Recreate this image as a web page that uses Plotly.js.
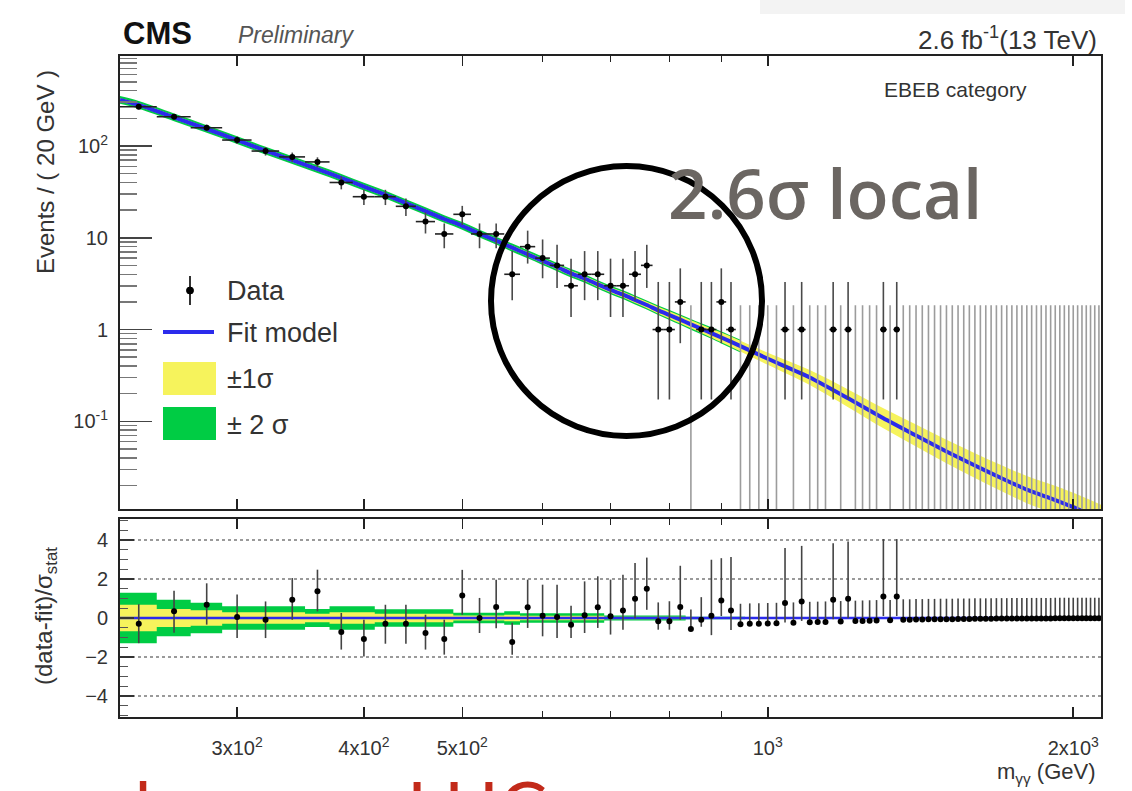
<!DOCTYPE html>
<html><head><meta charset="utf-8">
<script src="https://cdn.plot.ly/plotly-3.0.1.min.js"></script>
<style>html,body{margin:0;padding:0;background:#fff}#chart{width:1132px;height:791px}</style>
</head><body><div id="chart"></div>
<script>
// ---------------- data ----------------
const binCenters = [240,260,280,300,320,340,360,380,400,420,440,460,480,500,520,540,560,580,600,620,
  640,660,680,700,720,740,760,780,800,820,840,860,880,900,920,940,960,980,1000,1020,
  1040,1060,1080,1100,1120,1140,1160,1180,1200,1220,1240,1260,1280,1300,1320,1340,1360,1380,1400,1420,
  1440,1460,1480,1500,1520,1540,1560,1580,1600,1620,1640,1660,1680,1700,1720,1740,1760,1780,1800,1820,
  1840,1860,1880,1900,1920,1940,1960,1980,2000,2020,2040,2060,2080,2100,2120];
const binHalfWidth = 10;
const counts = [267,208,158,116,88,76,67,40,28,28,22,15,11,18,11,11,4,8,6,5,
  3,4,4,3,3,4,5,1,1,2,0,1,1,2,1,0,0,0,0,0,
  1,0,1,0,0,0,1,0,1,0,0,0,0,1,0,1,0,0,0,0,
  0,0,0,0,0,0,0,0,0,0,0,0,0,0,0,0,0,0,0,0,
  0,0,0,0,0,0,0,0,0,0,0,0,0,0,0];
// Poisson (Garwood) interval half-lengths for small counts, n = 0..10
const poissonLo = [0,0.827,1.29,1.63,1.91,2.16,2.38,2.58,2.77,2.94,3.11];
const poissonHi = [1.84,2.30,2.64,2.92,3.16,3.38,3.58,3.77,3.95,4.12,4.27];

const fitMass = [230,240,260,280,300,320,340,360,380,400,420,440,460,480,500,
  520,540,560,580,600,620,640,660,680,700,
  720,740,760,780,800,820,840,860,880,900,
  940,1000,1100,1200,1300,1400,1500,1600,1700,1800,1900,2000,2130];
const fitValue = [317,280,205,153,116,89,70,56,45,36,29.5,23.8,19.5,16,13.5,
  11.1,9.3,7.8,6.6,5.6,4.8,4.1,3.6,3.1,2.7,
  2.4,2.1,1.85,1.62,1.44,1.28,1.14,1.02,0.915,0.82,
  0.66,0.48,0.3,0.178,0.108,0.07,0.047,0.033,0.024,0.018,0.0145,0.0116,0.0085];
// band half-widths in decades
const yellowDex = [0.02,0.02,0.02,0.02,0.02,0.02,0.02,0.02,0.02,0.02,0.02,0.02,0.02,0.02,0.02,
  0.022,0.022,0.024,0.024,0.026,0.026,0.028,0.028,0.03,0.03,
  0.032,0.034,0.036,0.038,0.04,0.042,0.044,0.047,0.05,0.053,
  0.058,0.066,0.082,0.097,0.11,0.12,0.128,0.135,0.142,0.148,0.153,0.158,0.163];
const greenDex = [0.042,0.042,0.042,0.042,0.042,0.042,0.042,0.042,0.042,0.042,0.042,0.042,0.042,0.042,0.042,
  0.043,0.043,0.044,0.044,0.045,0.045,0.046,0.046,0.047,0.047,
  0.048,0.049,0.05,0.052,0.054,0.056,0.058,0.06,0.063,0.066,
  0.07,null,null,null,null,null,null,null,null,null,null,null,null];

const residual = [-0.29,0.34,0.68,0.05,-0.09,0.94,1.37,-0.72,-1.08,-0.29,-0.29,-0.77,-1.08,1.16,0,0.56,-1.23,0.55,0.12,0.05,
  -0.34,0.14,0.55,0.09,0.39,0.99,1.5,-0.17,-0.17,0.56,-0.56,-0.09,0.12,0.9,0.39,-0.32,-0.3,-0.29,-0.28,-0.27,
  0.77,-0.25,0.85,-0.22,-0.21,-0.2,0.94,-0.18,0.99,-0.16,-0.15,-0.14,-0.13,1.1,-0.12,1.1,-0.09,-0.09,-0.08,-0.08,
  -0.07,-0.07,-0.06,-0.06,-0.06,-0.05,-0.05,-0.05,-0.04,-0.04,-0.04,-0.04,-0.03,-0.03,-0.03,-0.03,-0.03,-0.02,-0.02,-0.02,
  -0.02,-0.02,-0.02,-0.02,-0.01,-0.01,-0.01,-0.01,-0.01,-0.01,-0.01,-0.01,-0.01,-0.01,-0.01];
const residErrLo = [1.0,1.1,1.02,1.08,0.94,1.03,1.03,0.9,0.89,1.03,1.03,0.85,0.8,0.99,0.77,1.08,0.65,1.06,1.06,1.08,
  0.68,0.91,1.06,0.94,0.99,1.0,1.08,0.43,0.43,0.65,0,0.36,1.0,0.8,1.0,0,0,0,0,0,
  1.0,0,1.0,0,0,0,1.0,0,1.0,0,0,0,0,1.0,0,1.0,0,0,0,0,
  0,0,0,0,0,0,0,0,0,0,0,0,0,0,0,0,0,0,0,0,
  0,0,0,0,0,0,0,0,0,0,0,0,0,0,0];
const residErrHi = [1.0,1.06,1.1,1.15,0.94,1.11,1.11,0.98,0.99,0.97,0.97,0.94,0.99,1.31,1.03,1.4,0.98,1.42,1.59,1.66,
  0.97,1.74,1.59,1.88,1.83,1.83,1.6,0.97,1.03,2.12,0.99,1.16,2.87,2.17,2.74,1.05,1.05,1.05,1.05,1.05,
  2.82,1.05,2.85,1.05,1.05,1.05,2.9,1.05,2.94,1.05,1.05,1.05,1.05,2.95,1.05,2.95,1.05,1.05,1.05,1.05,
  1.05,1.05,1.05,1.05,1.05,1.05,1.05,1.05,1.05,1.05,1.05,1.05,1.05,1.05,1.05,1.05,1.05,1.05,1.05,1.05,
  1.05,1.05,1.05,1.05,1.05,1.05,1.05,1.05,1.05,1.05,1.05,1.05,1.05,1.05,1.05];

// residual-panel bands (step edges and half-widths in sigma_stat)
const ratioBandEdges = [230,250,270,290,350,370,410,490,550,570,690,830,950];
const ratioGreen  = [1.3,0.94,0.78,0.6,0.46,0.6,0.45,0.27,0.35,0.24,0.13,0.06];
const ratioYellow = [0.68,0.46,0.4,0.29,0.22,0.29,0.22,0.13,0.17,0.12,0.07,0.03];

const xTickVals = [300,400,500,1000,2000];
const xTickText = ['3x10<sup>2</sup>','4x10<sup>2</sup>','5x10<sup>2</sup>','10<sup>3</sup>','2x10<sup>3</sup>'];
const xMinorVals = [600,700,800,900];
const yTickVals = [0.1,1,10,100];
const yTickText = ['10<sup>-1</sup>','1','10','10<sup>2</sup>'];
const ratioTickVals = [-4,-2,0,2,4];

// ---------------- build ----------------
const FONT = 'Liberation Sans, Arial, Helvetica, sans-serif';
const L=120, R=1101, T=56, B=717;
const px = x => (x-L)/(R-L);
const py = y => (B-y)/(B-T);
const YELLOW = '#f6f35c', GREEN = '#00cc44', BLUE = '#2b2bec';

const traces = [];
// upper bands
const gm=[],glo=[],ghi=[];
fitMass.forEach((m,i)=>{ if(greenDex[i]!==null){gm.push(m);glo.push(fitValue[i]*Math.pow(10,-greenDex[i]));ghi.push(fitValue[i]*Math.pow(10,greenDex[i]));}});
traces.push({x:gm,y:glo,xaxis:'x2',yaxis:'y',mode:'lines',line:{width:0,color:GREEN,shape:'spline'},hoverinfo:'skip'});
traces.push({x:gm,y:ghi,xaxis:'x2',yaxis:'y',mode:'lines',line:{width:0,color:GREEN,shape:'spline'},fill:'tonexty',fillcolor:GREEN,hoverinfo:'skip'});
traces.push({x:fitMass,y:fitValue.map((v,i)=>v*Math.pow(10,-yellowDex[i])),xaxis:'x2',yaxis:'y',mode:'lines',line:{width:0,color:YELLOW,shape:'spline'},hoverinfo:'skip'});
traces.push({x:fitMass,y:fitValue.map((v,i)=>v*Math.pow(10,yellowDex[i])),xaxis:'x2',yaxis:'y',mode:'lines',line:{width:0,color:YELLOW,shape:'spline'},fill:'tonexty',fillcolor:YELLOW,hoverinfo:'skip'});
traces.push({x:fitMass,y:fitValue,xaxis:'x2',yaxis:'y',mode:'lines',line:{width:4,color:BLUE,shape:'spline',smoothing:0.6},hoverinfo:'skip'});

// upper error bars
const ex=[],ey=[],vx=[],vy=[],hx=[],hy=[],dx=[],dy=[];
binCenters.forEach((m,i)=>{
  const n=counts[i];
  if(n===0){ ex.push(m,m,null); ey.push(1e-4,n+poissonHi[0],null); }
  else{
    const lo = n<poissonLo.length ? poissonLo[n] : Math.sqrt(n);
    const hi = n<poissonHi.length ? poissonHi[n] : Math.sqrt(n);
    vx.push(m,m,null); vy.push(n-lo,n+hi,null);
    hx.push(m-binHalfWidth,m+binHalfWidth,null); hy.push(n,n,null);
    dx.push(m); dy.push(n);
  }
});
traces.push({x:ex,y:ey,xaxis:'x2',yaxis:'y',mode:'lines',line:{width:1.6,color:'#9c9c9c'},hoverinfo:'skip'});
traces.push({x:vx,y:vy,xaxis:'x2',yaxis:'y',mode:'lines',line:{width:1.6,color:'#4a4a4a'},hoverinfo:'skip'});
traces.push({x:hx,y:hy,xaxis:'x2',yaxis:'y',mode:'lines',line:{width:1.6,color:'#222'},hoverinfo:'skip'});
traces.push({x:dx,y:dy,xaxis:'x2',yaxis:'y',mode:'markers',marker:{size:6,color:'#000'},hoverinfo:'skip'});

// lower bands (steps)
function stepBand(half, sign){
  const xs=[],ys=[];
  half.forEach((h,i)=>{ xs.push(ratioBandEdges[i],ratioBandEdges[i+1]); ys.push(sign*h,sign*h); });
  return {xs,ys};
}
[[ratioGreen,GREEN],[ratioYellow,YELLOW]].forEach(([arr,col])=>{
  const lo=stepBand(arr,-1), hi=stepBand(arr,1);
  traces.push({x:lo.xs,y:lo.ys,xaxis:'x',yaxis:'y2',mode:'lines',line:{width:0,color:col},hoverinfo:'skip'});
  traces.push({x:hi.xs,y:hi.ys,xaxis:'x',yaxis:'y2',mode:'lines',line:{width:0,color:col},fill:'tonexty',fillcolor:col,hoverinfo:'skip'});
});
traces.push({x:[ratioBandEdges[0],binCenters[binCenters.length-1]+binHalfWidth],y:[0,0],xaxis:'x',yaxis:'y2',mode:'lines',line:{width:2.5,color:BLUE},hoverinfo:'skip'});
const rx=[],ry=[];
binCenters.forEach((m,i)=>{ rx.push(m,m,null); ry.push(residual[i]-residErrLo[i],residual[i]+residErrHi[i],null); });
traces.push({x:rx,y:ry,xaxis:'x',yaxis:'y2',mode:'lines',line:{width:1.6,color:'#444'},hoverinfo:'skip'});
traces.push({x:binCenters,y:residual,xaxis:'x',yaxis:'y2',mode:'markers',marker:{size:6,color:'#000'},hoverinfo:'skip'});

// minor ticks for log y axis
const yMinor=[];
[0.01,0.1,1,10,100].forEach(d=>{for(let k=2;k<=9;k++) yMinor.push(k*d);});

const xRange=[Math.log10(230),Math.log10(2130)];
const axisLine = {showline:true,linecolor:'#222',linewidth:2};
const xMinor = {tickmode:'array',tickvals:xMinorVals,ticks:'inside',ticklen:6,tickwidth:1.5,tickcolor:'#222'};
const RED = '#c22a1a';
const layout = {
  width:1132,height:791,
  margin:{l:L,r:1132-R,t:T,b:791-B,pad:0},
  paper_bgcolor:'#fff',plot_bgcolor:'#fff',
  showlegend:false,
  font:{family:FONT,color:'#333'},
  xaxis:Object.assign({type:'log',range:xRange,anchor:'y2',domain:[0,1],
    tickmode:'array',tickvals:xTickVals,ticktext:xTickText,ticks:'inside',ticklen:10,tickwidth:1.5,tickcolor:'#222',
    minor:xMinor,mirror:'ticks',showgrid:false,zeroline:false,tickfont:{size:20,color:'#333'},ticklabelstandoff:12},axisLine),
  xaxis2:Object.assign({type:'log',range:xRange,anchor:'y',domain:[0,1],matches:'x',
    tickmode:'array',tickvals:xTickVals,ticks:'inside',ticklen:10,tickwidth:1.5,tickcolor:'#222',
    minor:xMinor,mirror:'ticks',showgrid:false,zeroline:false,showticklabels:false},axisLine),
  yaxis:Object.assign({type:'log',range:[-1.955,2.98],domain:[(B-509)/(B-T),1],anchor:'x2',
    tickmode:'array',tickvals:yTickVals,ticktext:yTickText,ticks:'inside',ticklen:32,tickwidth:1.5,tickcolor:'#444',
    minor:{tickmode:'array',tickvals:yMinor,ticks:'inside',ticklen:17,tickwidth:1.5,tickcolor:'#777'},
    mirror:true,showgrid:false,zeroline:false,tickfont:{size:20,color:'#333'},ticklabelstandoff:6},axisLine),
  yaxis2:Object.assign({range:[-5.08,5.08],domain:[0,(B-519)/(B-T)],anchor:'x',
    tickmode:'array',tickvals:ratioTickVals,ticks:'inside',ticklen:14,tickwidth:1.5,tickcolor:'#333',
    minor:{dtick:0.5,ticks:'inside',ticklen:8,tickwidth:1.2,tickcolor:'#555'},
    mirror:true,showgrid:true,gridcolor:'#9a9a9a',griddash:'dot',gridwidth:1.3,zeroline:false,
    tickfont:{size:20,color:'#333'},ticklabelstandoff:6},axisLine),
  shapes:[
    {type:'rect',xref:'paper',yref:'paper',x0:px(760),x1:px(1125),y0:py(14),y1:py(-4),fillcolor:'#f3f3f3',line:{width:0},layer:'below'},
    // legend glyphs
    {type:'line',xref:'paper',yref:'paper',x0:px(190),x1:px(190),y0:py(276),y1:py(305),line:{color:'#333',width:2}},
    {type:'circle',xref:'paper',yref:'paper',x0:px(186.5),x1:px(193.5),y0:py(294),y1:py(287),fillcolor:'#000',line:{color:'#000',width:1}},
    {type:'line',xref:'paper',yref:'paper',x0:px(163),x1:px(214),y0:py(332),y1:py(332),line:{color:BLUE,width:4}},
    {type:'rect',xref:'paper',yref:'paper',x0:px(163),x1:px(216),y0:py(395),y1:py(362),fillcolor:YELLOW,line:{width:0}},
    {type:'rect',xref:'paper',yref:'paper',x0:px(163),x1:px(216),y0:py(440),y1:py(407),fillcolor:GREEN,line:{width:0}},
    // highlight circle
    {type:'circle',xref:'paper',yref:'paper',x0:px(491),x1:px(762),y0:py(436),y1:py(166),line:{color:'#000',width:6}}
  ],
  annotations:[
    {xref:'paper',yref:'paper',x:px(121),y:py(33),xanchor:'left',yanchor:'middle',showarrow:false,text:'<b>CMS</b>',font:{size:31,color:'#111'}},
    {xref:'paper',yref:'paper',x:px(236),y:py(35),xanchor:'left',yanchor:'middle',showarrow:false,text:'<i>Preliminary</i>',font:{size:23,color:'#555'}},
    {xref:'paper',yref:'paper',x:px(1099),y:py(39),xanchor:'right',yanchor:'middle',showarrow:false,text:'2.6 fb<sup>-1</sup>(13 TeV)',font:{size:26,color:'#333'}},
    {xref:'paper',yref:'paper',x:px(882),y:py(90),xanchor:'left',yanchor:'middle',showarrow:false,text:'EBEB category',font:{size:21,color:'#333'}},
    {xref:'paper',yref:'paper',x:px(666),y:py(192),xanchor:'left',yanchor:'middle',showarrow:false,text:'2.6σ local',font:{family:'Open Sans, sans-serif',size:69,color:'#6b6662',weight:600}},
    {xref:'paper',yref:'paper',x:px(225),y:py(291),xanchor:'left',yanchor:'middle',showarrow:false,text:'Data',font:{size:27,color:'#333'}},
    {xref:'paper',yref:'paper',x:px(225),y:py(333),xanchor:'left',yanchor:'middle',showarrow:false,text:'Fit model',font:{size:27,color:'#333'}},
    {xref:'paper',yref:'paper',x:px(225),y:py(379),xanchor:'left',yanchor:'middle',showarrow:false,text:'±1σ',font:{size:27,color:'#333'}},
    {xref:'paper',yref:'paper',x:px(225),y:py(425),xanchor:'left',yanchor:'middle',showarrow:false,text:'± 2 σ',font:{size:27,color:'#333'}},
    {xref:'paper',yref:'paper',x:px(45),y:py(172),xanchor:'center',yanchor:'middle',textangle:-90,showarrow:false,text:'Events / ( 20 GeV )',font:{size:24,color:'#333'}},
    {xref:'paper',yref:'paper',x:px(45),y:py(616),xanchor:'center',yanchor:'middle',textangle:-90,showarrow:false,text:'(data-fit)/σ<sub>stat</sub>',font:{size:24,color:'#333'}},
    {xref:'paper',yref:'paper',x:px(1098),y:py(773),xanchor:'right',yanchor:'middle',showarrow:false,text:'m<sub>γγ</sub> (GeV)',font:{size:22,color:'#333'}},
    // slide text below the plot, cut off by the bottom edge
    {xref:'paper',yref:'paper',x:px(153),y:py(806),xanchor:'right',yanchor:'middle',showarrow:false,text:'and',font:{family:'Lato, sans-serif',size:72,color:RED}},
    {xref:'paper',yref:'paper',x:px(405),y:py(806),xanchor:'left',yanchor:'middle',showarrow:false,text:'LHC',font:{family:'Lato, sans-serif',size:72,color:RED}}
  ]
};
Plotly.newPlot('chart',traces,layout,{staticPlot:true,displayModeBar:false});
</script>
</body></html>
